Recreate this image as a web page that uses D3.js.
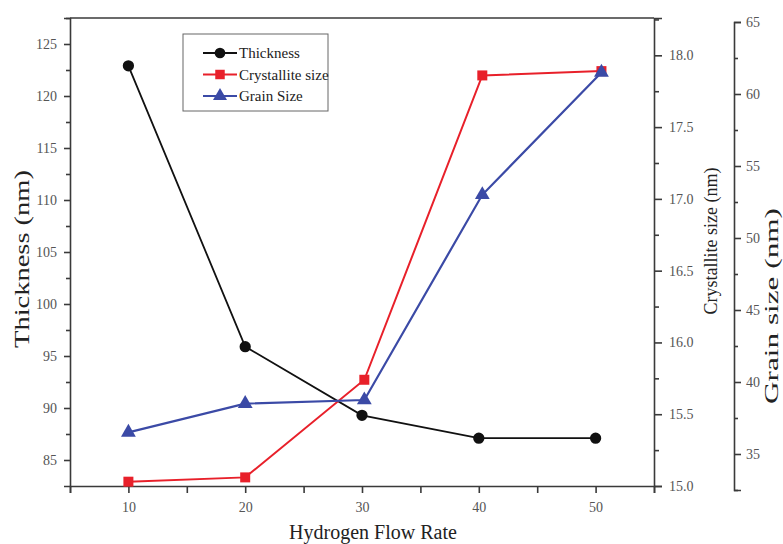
<!DOCTYPE html>
<html>
<head>
<meta charset="utf-8">
<script src="https://cdn.jsdelivr.net/npm/d3@7/dist/d3.min.js"></script>
<style>
	body { margin: 0; background: #fff; }
	svg { display: block; font-family: 'Liberation Serif', 'Times New Roman', serif; }
	.axis path, .axis line { stroke: #3a3a3a; stroke-width: 1.6; }
	.axis text { fill: #555; font-size: 14px; font-family: 'Liberation Serif', serif; }
	.title { fill: #222; }
</style>
</head>
<body>
<svg width="783" height="544"></svg>
<script>
// values
const flowThick = [10, 20, 30, 40, 50];
const flowSize = [10, 20, 30.2, 40.3, 50.5];
const thickness = [122.9, 95.9, 89.3, 87.1, 87.1];
const crystallite = [15.03, 15.06, 15.74, 17.86, 17.89];
const grain = [36.5, 38.5, 38.75, 53.0, 61.5];

const xTicks = [5, 10, 15, 20, 25, 30, 35, 40, 45, 50, 55];
const thickTicks = [85, 87.5, 90, 92.5, 95, 97.5, 100, 102.5, 105, 107.5, 110, 112.5, 115, 117.5, 120, 122.5, 125, 127.5];
const crystTicks = [15, 15.25, 15.5, 15.75, 16, 16.25, 16.5, 16.75, 17, 17.25, 17.5, 17.75, 18, 18.25];
const grainTicks = [32.5, 35, 37.5, 40, 42.5, 45, 47.5, 50, 52.5, 55, 57.5, 60, 62.5, 65];
const legendNames = ['Thickness', 'Crystallite size', 'Grain Size'];

function init() {
	const svg = d3.select('svg');
	const left = 70, right = 654, top = 18, bottom = 486;

	const x = d3.scaleLinear().domain([5, 55]).range([left, right]);
	const yThick = d3.scaleLinear().domain([82.5, 127.5]).range([bottom, top]);
	const yCryst = d3.scaleLinear().domain([15, 18.26]).range([bottom, top]);
	const yGrain = d3.scaleLinear().domain([32.5, 65]).range([490, 22]);

	// frame top line
	svg.append('line')
		.attr('x1', left).attr('x2', right)
		.attr('y1', top).attr('y2', top)
		.attr('stroke', '#3a3a3a').attr('stroke-width', 1.6);

	const isMajor = (d, step) => Math.abs(d / step - Math.round(d / step)) < 1e-6;

	svg.append('g')
		.attr('class', 'axis')
		.attr('transform', 'translate(0,' + bottom + ')')
		.call(d3.axisBottom(x).tickValues(xTicks).tickSizeOuter(0).tickSize(7).tickPadding(9)
			.tickFormat(d => isMajor(d, 10) ? d : ''));

	const gl = svg.append('g')
		.attr('class', 'axis')
		.attr('transform', 'translate(' + left + ',0)')
		.call(d3.axisLeft(yThick).tickValues(thickTicks).tickSizeOuter(0).tickSize(6).tickPadding(7)
			.tickFormat(d => isMajor(d, 5) ? d : ''));
	gl.selectAll('.tick').filter(d => !isMajor(d, 5)).select('line').attr('x2', -4);

	const gc = svg.append('g')
		.attr('class', 'axis')
		.attr('transform', 'translate(' + right + ',0)')
		.call(d3.axisRight(yCryst).tickValues(crystTicks).tickSizeOuter(0).tickSize(8).tickPadding(7)
			.tickFormat(d => isMajor(d, 0.5) ? d3.format('.1f')(d) : ''));
	gc.selectAll('.tick').filter(d => !isMajor(d, 0.5)).select('line').attr('x2', 5);

	const gg = svg.append('g')
		.attr('class', 'axis')
		.attr('transform', 'translate(734,0)')
		.call(d3.axisRight(yGrain).tickValues(grainTicks).tickSizeOuter(0).tickSize(7).tickPadding(5)
			.tickFormat(d => isMajor(d, 5) ? d : ''));
	gg.selectAll('.tick').filter(d => !isMajor(d, 5)).select('line').attr('x2', 4);

	// axis titles
	svg.append('text')
		.attr('class', 'title')
		.attr('transform', 'translate(29,259) rotate(-90)')
		.attr('text-anchor', 'middle')
		.attr('font-size', 21)
		.attr('textLength', 178)
		.attr('lengthAdjust', 'spacingAndGlyphs')
		.text('Thickness (nm)');

	svg.append('text')
		.attr('class', 'title')
		.attr('transform', 'translate(717,241) rotate(-90)')
		.attr('text-anchor', 'middle')
		.attr('font-size', 18)
		.text('Crystallite size (nm)');

	svg.append('text')
		.attr('class', 'title')
		.attr('transform', 'translate(778,306) rotate(-90)')
		.attr('text-anchor', 'middle')
		.attr('font-size', 19)
		.attr('textLength', 196)
		.attr('lengthAdjust', 'spacingAndGlyphs')
		.text('Grain size (nm)');

	svg.append('text')
		.attr('class', 'title')
		.attr('x', 373).attr('y', 539)
		.attr('text-anchor', 'middle')
		.attr('font-size', 20)
		.text('Hydrogen Flow Rate');

	const series = [
		{xs: flowThick, ys: thickness, y: yThick, color: '#111', shape: d3.symbolCircle, size: 100, width: 1.8},
		{xs: flowSize, ys: crystallite, y: yCryst, color: '#e8202a', shape: d3.symbolSquare, size: 100, width: 2},
		{xs: flowSize, ys: grain, y: yGrain, color: '#3b4aa6', shape: d3.symbolTriangle, size: 95, width: 2.2}
	];

	series.forEach(s => {
		const pts = s.xs.map((v, i) => [x(v), s.y(s.ys[i])]);
		svg.append('path')
			.attr('d', d3.line()(pts))
			.attr('fill', 'none')
			.attr('stroke', s.color)
			.attr('stroke-width', s.width);
		svg.selectAll(null)
			.data(pts)
			.enter().append('path')
			.attr('transform', d => 'translate(' + d[0] + ',' + d[1] + ')')
			.attr('d', d3.symbol().type(s.shape).size(s.size))
			.attr('fill', s.color);
	});

	// legend
	const lg = svg.append('g').attr('transform', 'translate(183,34)');
	lg.append('rect')
		.attr('width', 145).attr('height', 77)
		.attr('fill', '#fff')
		.attr('stroke', '#666').attr('stroke-width', 1);
	series.forEach((s, i) => {
		const ly = 19 + i * 21.5;
		lg.append('line')
			.attr('x1', 20).attr('x2', 54)
			.attr('y1', ly).attr('y2', ly)
			.attr('stroke', s.color).attr('stroke-width', 2);
		lg.append('path')
			.attr('transform', 'translate(37,' + ly + ')')
			.attr('d', d3.symbol().type(s.shape).size(s.size * 0.9))
			.attr('fill', s.color);
		lg.append('text')
			.attr('x', 56).attr('y', ly + 5)
			.attr('font-size', 15)
			.attr('fill', '#222')
			.text(legendNames[i]);
	});
}

init();
</script>
</body>
</html>
